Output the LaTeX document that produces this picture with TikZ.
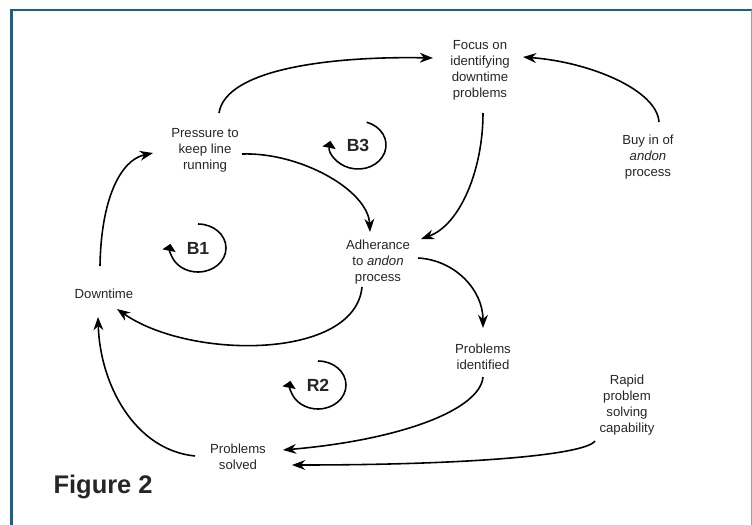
\documentclass[tikz,border=0pt]{standalone}
\usepackage{fontspec}
\setmainfont{Liberation Sans}
\usetikzlibrary{arrows.meta,calc}
\definecolor{frameblue}{RGB}{26,96,135}
\definecolor{frameedge}{RGB}{140,165,180}
\definecolor{txtgray}{RGB}{38,38,38}
\begin{document}
\begin{tikzpicture}[x=.02cm,y=-.02cm,line width=.9pt,
  every node/.style={font=\fontsize{7.5}{9.1}\selectfont,text=txtgray,align=center,inner sep=1pt},
  link/.style={-{Stealth[length=7.5pt,width=5.6pt,inset=2.4pt]}},
  loopsign/.style={-{Triangle[length=4pt,width=7.5pt]}},
  looplabel/.style={font=\fontsize{10}{12}\selectfont\bfseries}]
  \path[use as bounding box] (0,0) rectangle (752,525);
  % frame
  \draw[frameblue,line width=1.4pt] (11.5,525) -- (11.5,10) -- (752,10);
  \draw[frameedge,line width=.6pt] (751.5,10) -- (751.5,525);
  % variables
  \node (press) at (205,150) {Pressure to\\keep line\\running};
  \node (focus) at (480,70) {Focus on\\identifying\\downtime\\problems};
  \node (buyin) at (648,157) {Buy in of\\\textit{andon}\\process};
  \node (adher) at (378,262) {Adherance\\to \textit{andon}\\process};
  \node (down) at (104,294) {Downtime};
  \node (probid) at (483,357) {Problems\\identified};
  \node (rapid) at (627,405) {Rapid\\problem\\solving\\capability};
  \node (solved) at (238,457) {Problems\\solved};
  \node[anchor=west,font=\fontsize{14.5}{17}\selectfont\bfseries] (fig) at (51,487) {Figure 2};
  % loops
  \node[looplabel] (b1) at (198,248) {B1};
  \node[looplabel] (b3) at (358,145) {B3};
  \node[looplabel] (r2) at (318,385) {R2};
  \draw[loopsign] ($(b1)+(0,-24)$) arc[start angle=-90,end angle=190,x radius=28,y radius=24];
  \draw[loopsign] ($(b3)+(8.7,-22.8)$) arc[start angle=-72,end angle=190,x radius=28,y radius=24];
  \draw[loopsign] ($(r2)+(0,-24)$) arc[start angle=-90,end angle=190,x radius=28,y radius=24];
  % links
  \draw[link] ($(down)+(-4,-28)$) .. controls +(1,-66) and +(-33,7) .. ($(press)+(-52,3)$);
  \draw[link] ($(press)+(14,-37)$) .. controls +(7,-45) and +(-98,-2) .. ($(focus)+(-47,-12)$);
  \draw[link] ($(press)+(37,4)$) .. controls +(58,-2) and +(-2,-42) .. ($(adher)+(-8,-30)$);
  \draw[link] ($(focus)+(3,43)$) .. controls +(0,57) and +(39,-14) .. ($(adher)+(43,-23)$);
  \draw[link] ($(buyin)+(11,-35)$) .. controls +(-2,-32) and +(67,5) .. ($(focus)+(43,-13)$);
  \draw[link] ($(adher)+(-16,25)$) .. controls +(-7,73) and +(73,51) .. ($(down)+(13,15)$);
  \draw[link] ($(adher)+(40,-4)$) .. controls +(37,2) and +(0,-38) .. ($(probid)+(0,-29)$);
  \draw[link] ($(probid)+(0,20)$) .. controls +(-3,33) and +(117,-10) .. ($(solved)+(45,-7)$);
  \draw[link] ($(rapid)+(-32,36)$) .. controls +(-10,14) and +(178,0) .. ($(solved)+(54,8)$);
  \draw[link] ($(solved)+(-43,-1)$) .. controls +(-60,-6) and +(2,68) .. ($(down)+(-6,23)$);
\end{tikzpicture}
\end{document}
